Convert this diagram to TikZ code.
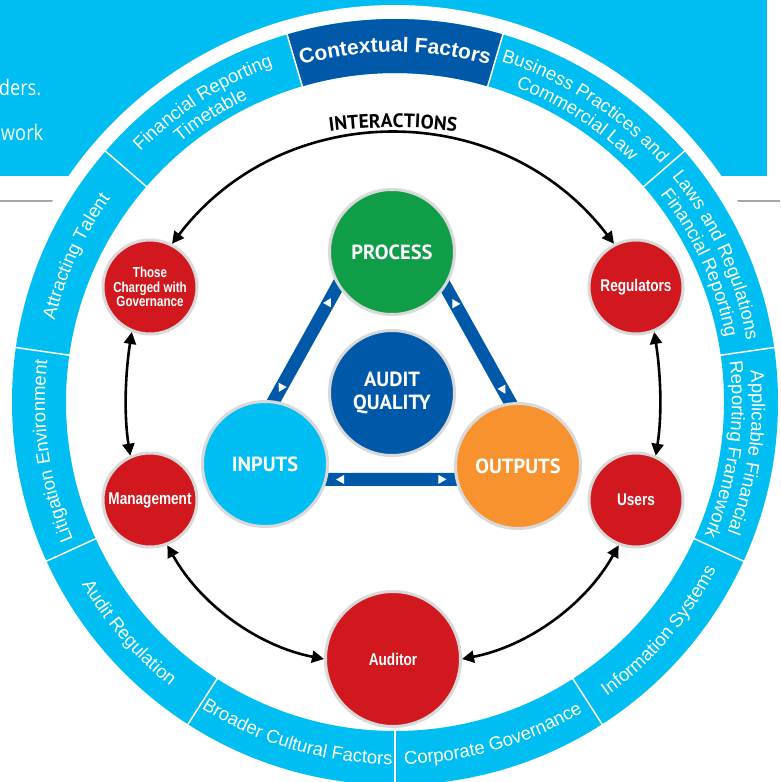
\documentclass[tikz,border=0pt]{standalone}
\usepackage{fontspec}
\setmainfont{Liberation Sans}
\newfontfamily\ringfam{Liberation Sans}
\newfontfamily\ptfam{PT Sans}
\newfontfamily\condfam[FakeStretch=0.8]{Liberation Sans}
\newfontfamily\bgfam[FakeStretch=0.85]{Open Sans}
\usetikzlibrary{arrows.meta,decorations.text,decorations.markings,calc}
\pgfdeclarelayer{canvas}
\pgfdeclarelayer{bars}
\pgfsetlayers{canvas,bars,main}
\definecolor{ringcyan}{RGB}{0,190,242}
\definecolor{darkblue}{RGB}{0,89,168}
\definecolor{pgreen}{RGB}{16,157,72}
\definecolor{porange}{RGB}{247,146,47}
\definecolor{pred}{RGB}{210,24,31}
\definecolor{bordergray}{RGB}{217,217,217}
\definecolor{linegray}{RGB}{167,167,167}
\newcommand\ringfnt{\ringfam\fontsize{18.5}{20}\selectfont\color{white}}
\newcommand\ctxfnt{\ringfam\bfseries\fontsize{21}{23}\selectfont\color{white}}
\newcommand\interfnt{\ptfam\bfseries\fontsize{19.5}{21}\selectfont\color{black}}
\newcommand\arcTop[4][\ringfnt]{%
  \path[decorate,decoration={text along path,text={|#1|#4},text align=center}]
    (#2+25:#3) arc[start angle=#2+25,end angle=#2-25,radius=#3];}
\newcommand\arcBot[4][\ringfnt]{%
  \path[decorate,decoration={text along path,text={|#1|#4},text align=center}]
    (#2-25:#3) arc[start angle=#2-25,end angle=#2+25,radius=#3];}
\begin{document}
\begin{tikzpicture}[x=1pt,y=1pt,
  cnode/.style={circle,draw=bordergray,line width=3pt,inner sep=0pt,minimum size=125pt,text=white,align=center,font=\ptfam\bfseries\fontsize{20.5}{22.7}\selectfont},
  rnode/.style={circle,draw=bordergray,line width=3pt,inner sep=0pt,minimum size=94pt,fill=pred,text=white,align=center,font=\condfam\bfseries\fontsize{17}{17}\selectfont},
  bar/.style={draw=darkblue,line width=13pt,shorten <=-8pt,shorten >=-8pt},
  barmarks/.style 2 args={decorate,decoration={markings,
     mark=at position #1 with {\fill[white] (-4pt,0pt) -- (4pt,4.5pt) -- (4pt,-4.5pt) -- cycle;},
     mark=at position -#2 with {\fill[white] (4pt,0pt) -- (-4pt,4.5pt) -- (-4pt,-4.5pt) -- cycle;}}},
  ia/.style={{Triangle[length=12pt,width=12pt]}-{Triangle[length=12pt,width=12pt]},line width=2.6pt,draw=black}
]
\useasboundingbox (0,-782) rectangle (780,0);

\begin{pgfonlayer}{canvas}
\fill[white] (0,-782) rectangle (780,0);
\draw[linegray,line width=2pt] (0,-200.7) -- (780,-200.7);
\fill[ringcyan] (0,-175.7) rectangle (767,0);
\fill[white] (395,-402) circle[radius=397];
\node[anchor=base east,text=white,inner sep=0pt,font=\bgfam\fontsize{21.5}{24}\selectfont] (bgtxta) at (41.5,-95) {ders.};
\node[anchor=base east,text=white,inner sep=0pt,font=\bgfam\fontsize{21.5}{24}\selectfont] (bgtxtb) at (43.5,-140) {work};
\end{pgfonlayer}

% ring of contextual factors
\begin{scope}[shift={(395,-402)}]
\fill[ringcyan,even odd rule] (0,0) circle[radius=383] (0,0) circle[radius=329];
\fill[darkblue] (73.636:329) -- (73.636:383) arc[start angle=73.636,end angle=106.364,radius=383]
  -- (106.364:329) arc[start angle=106.364,end angle=73.636,radius=329] -- cycle;
\foreach \a in {73.636,106.364,139.091,171.818,204.545,237.273,270,302.727,335.455,8.182,40.909}
  \draw[white,line width=1.5pt] (\a:328.5) -- (\a:383.5);
\arcTop[\ctxfnt]{90}{350}{Contextual Factors}
\arcTop{122.727}{357}{Financial Reporting}
\arcTop{122.727}{337}{Timetable}
\arcTop{155.455}{350}{Attracting Talent}
\arcTop{188.182}{350}{Litigation Environment}
\arcBot{220.909}{362.5}{Audit Regulation}
\arcBot{253.636}{362.5}{Broader Cultural Factors}
\arcBot{286.364}{362.5}{Corporate Governance}
\arcBot{319.091}{362.5}{Information Systems}
\arcTop{351.818}{357}{Applicable Financial}
\arcTop{351.818}{337}{Reporting Framework}
\arcTop{24.545}{357}{Laws and Regulations}
\arcTop{24.545}{337}{Financial Reporting}
\arcTop{57.273}{357}{Business Practices and}
\arcTop{57.273}{337}{Commercial Law}
\end{scope}

% INTERACTIONS label
\path[decorate,decoration={text along path,text={|\interfnt|INTERACTIONS},text align=center}]
  (393,-627.5) ++(105:500) arc[start angle=105,end angle=75,radius=500];

% core nodes
\node[cnode,fill=pgreen] (process) at (392,-252) {PROCESS};
\node[cnode,fill=darkblue] (aq) at (392,-393) {AUDIT\\QUALITY};
\node[cnode,fill=ringcyan] (inputs) at (265,-464) {INPUTS};
\node[cnode,fill=porange] (outputs) at (518,-466) {OUTPUTS};

% stakeholder nodes
\node[rnode,font=\condfam\bfseries\fontsize{14.5}{14.7}\selectfont] (tcg) at (150,-287) {Those\\Charged with\\Governance};
\node[rnode] (mgmt) at (150,-500) {Management};
\node[rnode] (reg) at (636,-287) {Regulators};
\node[rnode] (users) at (636,-500) {Users};
\node[rnode,minimum size=135pt] (aud) at (393,-659) {Auditor};

% triangle bars
\begin{pgfonlayer}{bars}
\draw[bar] (process.212) -- (inputs.82);
\path[barmarks={18pt}{14pt}] (process.212) -- (inputs.82);
\draw[bar] (process.-33) -- (outputs.97);
\path[barmarks={18pt}{14pt}] (process.-33) -- (outputs.97);
\draw[bar] (inputs.-14) -- (outputs.192);
\path[barmarks={13pt}{13pt}] (inputs.-14) -- (outputs.192);
\end{pgfonlayer}

% interaction arrows
\draw[ia] (tcg.63) to[out=52.7,in=127.3,looseness=1.07] (reg.117);
\draw[ia] (tcg.248) to[out=261,in=99,looseness=0.86] (mgmt.114);
\draw[ia] (reg.292) to[out=279,in=81,looseness=0.86] (users.66);
\draw[ia] (mgmt.291) to[out=-61,in=169,looseness=0.89] (aud.180);
\draw[ia] (users.249) to[out=241,in=11,looseness=0.89] (aud.0);
\end{tikzpicture}
\end{document}
